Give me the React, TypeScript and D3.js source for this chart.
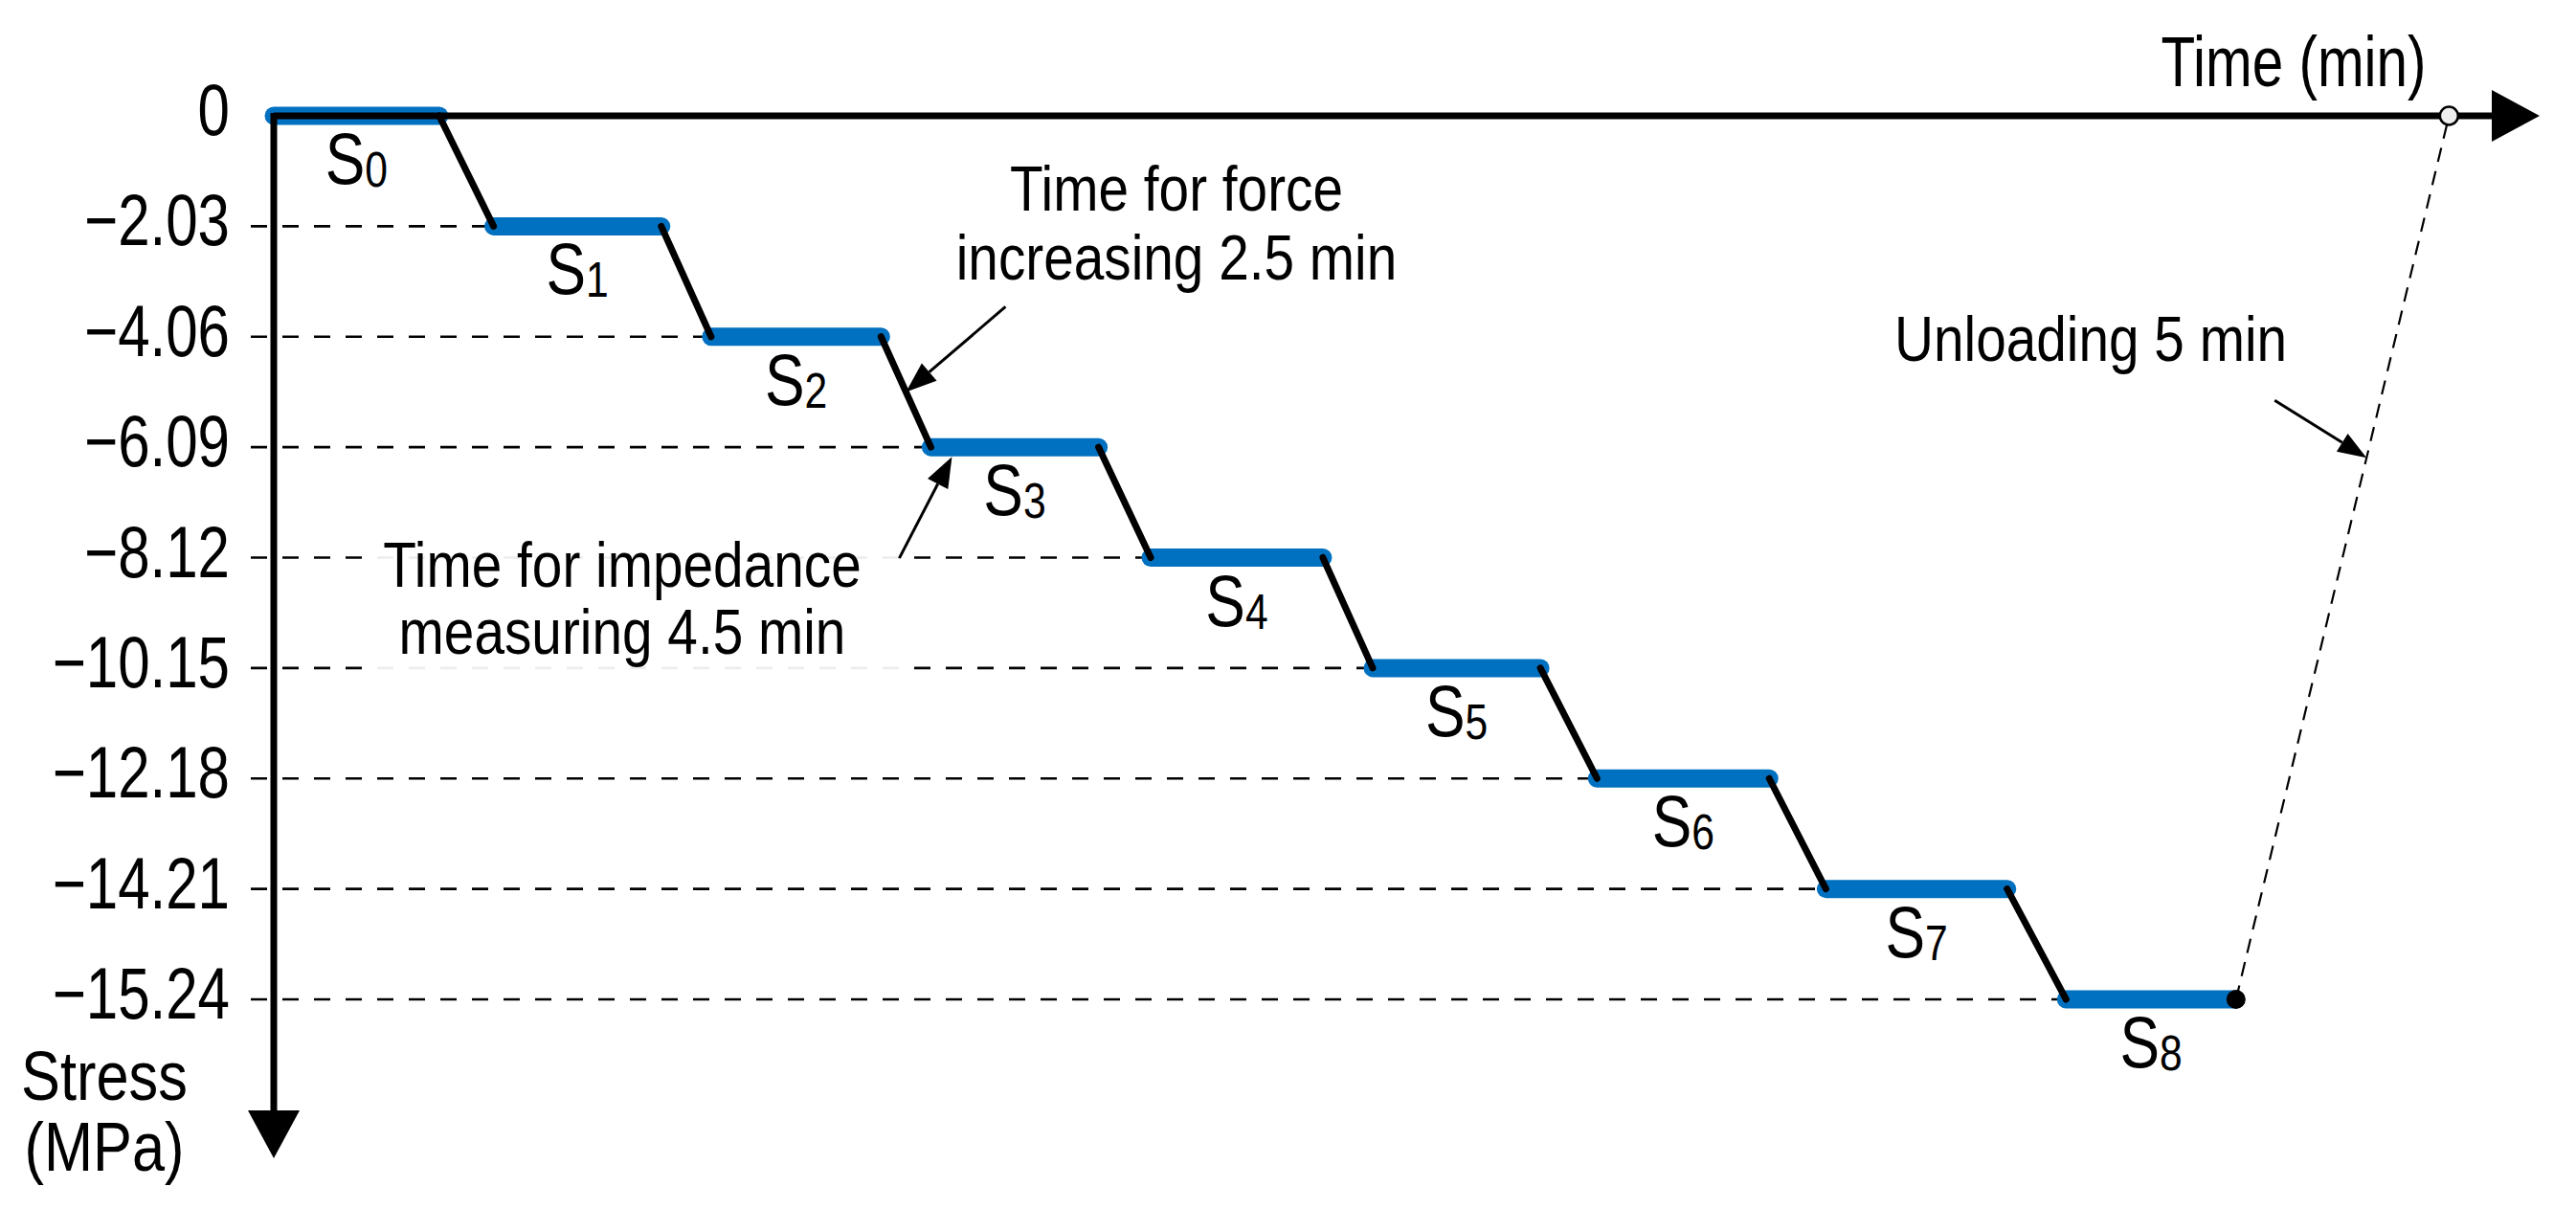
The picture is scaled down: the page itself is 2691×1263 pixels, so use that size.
import React from 'react';
import * as d3 from 'd3';

// stages, stress levels (MPa) and schematic time marks (axis not to scale, 0..100)
const stages = ['0', '1', '2', '3', '4', '5', '6', '7', '8'];
const stressLabels = ['0', '\u22122.03', '\u22124.06', '\u22126.09', '\u22128.12', '\u221210.15', '\u221212.18', '\u221214.21', '\u221215.24'];
const holdStart = [0, 9.7, 19.3, 29.0, 38.7, 48.5, 58.4, 68.5, 79.1];
const holdEnd = [7.3, 17.1, 26.8, 36.4, 46.3, 55.9, 66.0, 76.5, 86.6];
const unloadEnd = 96;

const W = 2691;
const H = 1263;
const BLUE = '#0070C0';
const FONT = "'Liberation Sans', Arial, sans-serif";

const NText = ({ x, y, size, anchor = 'start', sx = 0.82, children }: any) => (
  <text
    transform={`translate(${x},${y}) scale(${sx},1)`}
    fontSize={size}
    textAnchor={anchor}
    fontFamily={FONT}
    fill="#000"
  >
    {children}
  </text>
);

const Arrow = ({ x1, y1, x2, y2, len = 32, half = 12 }: any) => {
  const a = Math.atan2(y2 - y1, x2 - x1);
  const bx = x2 - len * Math.cos(a);
  const by = y2 - len * Math.sin(a);
  const px = -Math.sin(a) * half;
  const py = Math.cos(a) * half;
  return (
    <g>
      <line x1={x1} y1={y1} x2={bx} y2={by} stroke="#000" strokeWidth={3} />
      <polygon points={`${x2},${y2} ${bx + px},${by + py} ${bx - px},${by - py}`} fill="#000" />
    </g>
  );
};

const App = () => {
  const x = d3.scaleLinear().domain([0, 100]).range([286, 2653]);
  const y = d3.scalePoint().domain(stages).range([121, 1044]);

  const x0 = x(0);
  const y0 = y('0') as number;
  const yEnd = 1210;
  const xEnd = x(100);

  const ramp = d3.line();
  const last = stages.length - 1;

  // annotation anchors
  const r23 = [(x(holdEnd[2]) + x(holdStart[3])) / 2, ((y('2') as number) + (y('3') as number)) / 2];
  const s3 = [x(holdStart[3]) + 22, (y('3') as number) + 10];
  const ux = d3.interpolateNumber(x(holdEnd[last]), x(unloadEnd));
  const uy = d3.interpolateNumber(y(stages[last]) as number, y0);
  const uTip = [ux(0.613), uy(0.613)];

  return (
    <svg width={W} height={H} style={{ position: 'absolute', left: 0, top: 0, background: '#fff' }}>
      {/* dashed guide lines */}
      {stages.slice(1).map((s, i) => (
        <line
          key={'g' + s}
          x1={262}
          x2={x(holdStart[i + 1])}
          y1={y(s)}
          y2={y(s)}
          stroke="#000"
          strokeWidth={2.7}
          strokeDasharray="17 16"
        />
      ))}

      {/* white box behind impedance note */}
      <rect x={392} y={556} width={550} height={144} fill="#fff" opacity={0.93} />

      {/* tick labels */}
      {stages.map((s, i) => (
        <NText key={'t' + s} x={240} y={(y(s) as number) + 20} size={76} anchor="end" sx={0.79}>
          {stressLabels[i]}
        </NText>
      ))}

      {/* holds */}
      {stages.map((s, i) => (
        <line
          key={'h' + s}
          x1={x(holdStart[i])}
          x2={x(holdEnd[i])}
          y1={y(s)}
          y2={y(s)}
          stroke={BLUE}
          strokeWidth={19}
          strokeLinecap="round"
        />
      ))}

      {/* axes */}
      <line x1={x0} y1={y0} x2={xEnd - 50} y2={y0} stroke="#000" strokeWidth={7} />
      <polygon points={`${xEnd},${y0} ${xEnd - 50},${y0 - 27} ${xEnd - 50},${y0 + 27}`} fill="#000" />
      <line x1={x0} y1={y0 - 3} x2={x0} y2={yEnd - 50} stroke="#000" strokeWidth={7} />
      <polygon points={`${x0},${yEnd} ${x0 - 27},${yEnd - 50} ${x0 + 27},${yEnd - 50}`} fill="#000" />

      {/* ramps */}
      {stages.slice(0, last).map((s, i) => (
        <path
          key={'r' + s}
          d={ramp([
            [x(holdEnd[i]), y(s) as number],
            [x(holdStart[i + 1]), y(stages[i + 1]) as number],
          ]) as string}
          stroke="#000"
          strokeWidth={7}
          strokeLinecap="round"
          fill="none"
        />
      ))}

      {/* unloading */}
      <line
        x1={x(holdEnd[last])}
        y1={y(stages[last])}
        x2={x(unloadEnd)}
        y2={y0}
        stroke="#000"
        strokeWidth={2.2}
        strokeDasharray="15 10"
      />
      <circle cx={x(holdEnd[last])} cy={y(stages[last])} r={10} fill="#000" />
      <circle cx={x(unloadEnd)} cy={y0} r={9.5} fill="#eee" stroke="#000" strokeWidth={2.5} />

      {/* stage labels */}
      {stages.map((s, i) => (
        <NText key={'s' + s} x={(x(holdStart[i]) + x(holdEnd[i])) / 2} y={(y(s) as number) + 71} size={76} anchor="middle">
          <tspan>S</tspan>
          <tspan fontSize={52} dy={3}>{s}</tspan>
        </NText>
      ))}

      {/* axis titles */}
      <NText x={2396} y={90} size={74} anchor="middle" sx={0.79}>Time (min)</NText>
      <NText x={109} y={1149} size={73} anchor="middle" sx={0.84}>Stress</NText>
      <NText x={109} y={1223} size={73} anchor="middle" sx={0.84}>(MPa)</NText>

      {/* annotations */}
      <NText x={1229} y={220} size={66} anchor="middle" sx={0.86}>Time for force</NText>
      <NText x={1229} y={292} size={66} anchor="middle" sx={0.86}>increasing 2.5 min</NText>
      <Arrow x1={r23[0] + 104} y1={r23[1] - 89} x2={r23[0]} y2={r23[1]} />

      <NText x={650} y={613} size={66} anchor="middle" sx={0.86}>Time for impedance</NText>
      <NText x={650} y={683} size={66} anchor="middle" sx={0.86}>measuring 4.5 min</NText>
      <Arrow x1={s3[0] - 55} y1={s3[1] + 106} x2={s3[0]} y2={s3[1]} />

      <NText x={1979} y={377} size={66} anchor="start" sx={0.86}>Unloading 5 min</NText>
      <Arrow x1={uTip[0] - 96} y1={uTip[1] - 60} x2={uTip[0]} y2={uTip[1]} len={30} half={11} />
    </svg>
  );
};

export default App;
